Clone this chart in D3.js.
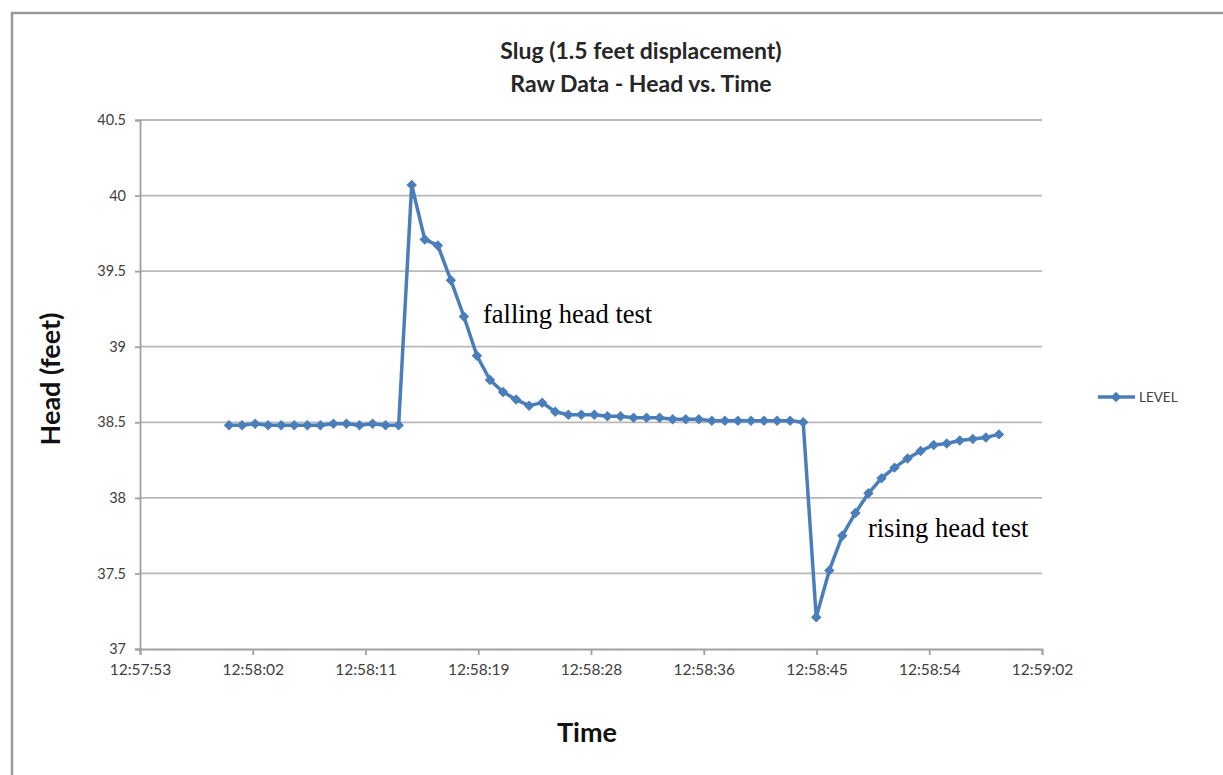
<!DOCTYPE html>
<html>
<head>
<meta charset="utf-8">
<script src="https://cdn.jsdelivr.net/npm/d3@7"></script>
<style>
  html, body { margin: 0; padding: 0; background: #fff; }
  svg { display: block; }
</style>
</head>
<body>
<svg id="chart" width="1223" height="775"></svg>
<script>
// seconds after 12:57:53, one reading per second
const times = [
  7, 8, 9, 10, 11, 12, 13, 14, 15, 16, 17, 18, 19, 20, 21, 22, 23, 24, 25, 26,
  27, 28, 29, 30, 31, 32, 33, 34, 35, 36, 37, 38, 39, 40, 41, 42, 43, 44, 45, 46,
  47, 48, 49, 50, 51, 52, 53, 54, 55, 56, 57, 58, 59, 60, 61, 62, 63, 64, 65, 66
];
// LEVEL (head, feet)
const level = [
  38.48, 38.48, 38.49, 38.48, 38.48, 38.48, 38.48, 38.48, 38.49, 38.49, 38.48, 38.49, 38.48, 38.48,
  40.07, 39.71, 39.67, 39.44, 39.20, 38.94, 38.78, 38.70, 38.65, 38.61, 38.63,
  38.57, 38.55, 38.55, 38.55, 38.54, 38.54, 38.53, 38.53, 38.53, 38.52, 38.52, 38.52, 38.51, 38.51,
  38.51, 38.51, 38.51, 38.51, 38.51, 38.50,
  37.21, 37.52, 37.75, 37.90, 38.03, 38.13, 38.20, 38.26, 38.31, 38.35, 38.36, 38.38, 38.39, 38.40, 38.42
];
const xTickLabels = ["12:57:53", "12:58:02", "12:58:11", "12:58:19", "12:58:28",
                     "12:58:36", "12:58:45", "12:58:54", "12:59:02"];
const yTicks = [37, 37.5, 38, 38.5, 39, 39.5, 40, 40.5];
const annotations = [
  { text: "falling head test", t: 26.46, v: 39.16 },
  { text: "rising head test", t: 55.96, v: 37.74 }
];

const xStart = 0.18;     // axis minimum, seconds after 12:57:53
const xStep = 8.64;      // Excel major unit 0.0001 day
const colour = "#4a7ebb";
const font = "Lato, 'Open Sans', sans-serif";

const svg = d3.select("#chart");
const plot = { left: 140, right: 1042, top: 120, bottom: 649 };

const x = d3.scaleLinear()
  .domain([xStart, xStart + xStep * (xTickLabels.length - 1)])
  .range([plot.left, plot.right]);
const y = d3.scaleLinear().domain([37, 40.5]).range([plot.bottom, plot.top]);

// outer chart frame (only top and left visible)
svg.append("path")
  .attr("d", "M12,775 V13 H1223")
  .attr("fill", "none")
  .attr("stroke", "#999")
  .attr("stroke-width", 2.5);

// titles
svg.append("text")
  .attr("x", 641).attr("y", 59)
  .attr("text-anchor", "middle")
  .attr("font-family", font).attr("font-weight", "bold").attr("font-size", 23)
  .attr("fill", "#262626")
  .text("Slug (1.5 feet displacement)");
svg.append("text")
  .attr("x", 641).attr("y", 92)
  .attr("text-anchor", "middle")
  .attr("font-family", font).attr("font-weight", "bold").attr("font-size", 23)
  .attr("fill", "#262626")
  .text("Raw Data - Head vs. Time");

// horizontal gridlines
svg.append("g")
  .selectAll("line")
  .data(yTicks.filter(d => d !== 37))
  .join("line")
  .attr("x1", plot.left).attr("x2", plot.right)
  .attr("y1", d => y(d)).attr("y2", d => y(d))
  .attr("stroke", "#b8b8b8")
  .attr("stroke-width", 1.8);

// y axis
const yAxis = svg.append("g")
  .attr("transform", `translate(${plot.left},0)`)
  .call(d3.axisLeft(y).tickValues(yTicks).tickSize(5).tickPadding(9).tickFormat(d3.format("")));
yAxis.select(".domain").attr("stroke", "#a0a0a0").attr("stroke-width", 1.8);
yAxis.selectAll(".tick line").attr("stroke", "#a0a0a0").attr("stroke-width", 1.8);
yAxis.selectAll(".tick text")
  .attr("font-family", font).attr("font-size", 14.5).attr("fill", "#404040");

// x axis
const xAxis = svg.append("g")
  .attr("transform", `translate(0,${plot.bottom})`)
  .call(d3.axisBottom(x)
    .tickValues(xTickLabels.map((_, i) => xStart + i * xStep))
    .tickSize(6).tickPadding(9)
    .tickFormat((d, i) => xTickLabels[i]));
xAxis.select(".domain").attr("stroke", "#a0a0a0").attr("stroke-width", 1.8);
xAxis.selectAll(".tick line").attr("stroke", "#a0a0a0").attr("stroke-width", 1.8);
xAxis.selectAll(".tick text")
  .attr("font-family", font).attr("font-size", 15.5).attr("fill", "#404040");

// axis titles
svg.append("text")
  .attr("transform", "translate(60,379) rotate(-90)")
  .attr("text-anchor", "middle")
  .attr("font-family", font).attr("font-weight", "bold").attr("font-size", 27)
  .attr("fill", "#111")
  .text("Head (feet)");
svg.append("text")
  .attr("x", 587).attr("y", 742)
  .attr("text-anchor", "middle")
  .attr("font-family", font).attr("font-weight", "bold").attr("font-size", 27)
  .attr("fill", "#111")
  .text("Time");

// series
const points = times.map((t, i) => ({ t, v: level[i] }));
const line = d3.line().x(d => x(d.t)).y(d => y(d.v));
svg.append("path")
  .datum(points)
  .attr("d", line)
  .attr("fill", "none")
  .attr("stroke", colour)
  .attr("stroke-width", 3.5)
  .attr("stroke-linejoin", "round");

const marker = d3.symbol().type(d3.symbolDiamond2).size(70);
svg.append("g")
  .selectAll("path")
  .data(points)
  .join("path")
  .attr("transform", d => `translate(${x(d.t)},${y(d.v)})`)
  .attr("d", marker)
  .attr("fill", colour);

// annotations
svg.append("g")
  .selectAll("text")
  .data(annotations)
  .join("text")
  .attr("x", d => x(d.t))
  .attr("y", d => y(d.v))
  .attr("font-family", "'Liberation Serif', 'Times New Roman', serif")
  .attr("font-size", 26.5)
  .attr("fill", "#000")
  .text(d => d.text);

// legend
const legend = svg.append("g").attr("transform", "translate(1098,397)");
legend.append("line")
  .attr("x1", 0).attr("x2", 37)
  .attr("stroke", colour).attr("stroke-width", 3.5);
legend.append("path")
  .attr("transform", "translate(18,0)")
  .attr("d", marker)
  .attr("fill", colour);
legend.append("text")
  .attr("x", 41).attr("y", 5)
  .attr("font-family", font).attr("font-size", 13.5)
  .attr("fill", "#404040")
  .text("LEVEL");
</script>
</body>
</html>
